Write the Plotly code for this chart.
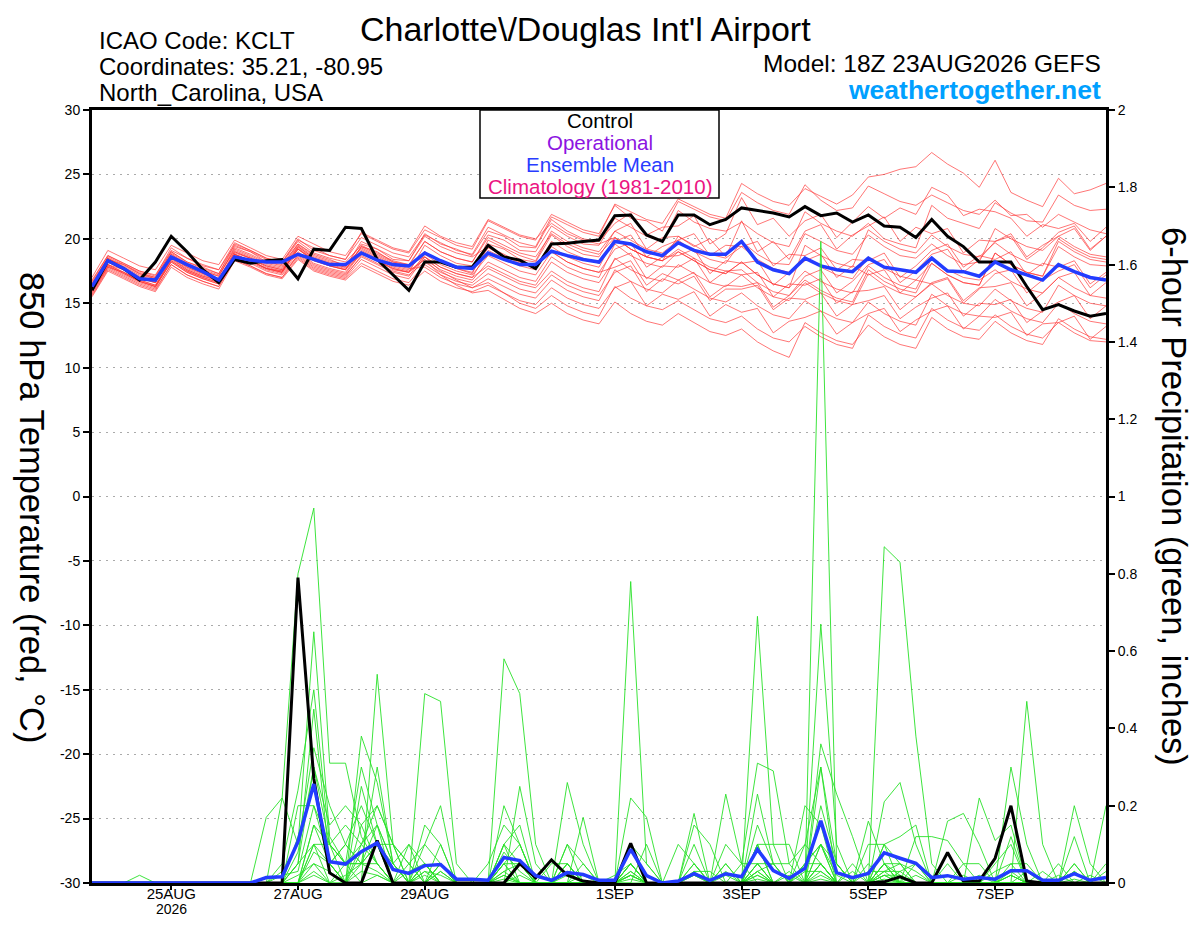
import pandas as pd
import plotly.graph_objects as go

# 6-hourly valid times, 18Z 23AUG2026 run
times = pd.date_range("2026-08-23 18:00", periods=65, freq="6h")

tick_dates = ["2026-08-25", "2026-08-27", "2026-08-29", "2026-09-01",
              "2026-09-03", "2026-09-05", "2026-09-07"]
tick_labels = ["25AUG", "27AUG", "29AUG", "1SEP", "3SEP", "5SEP", "7SEP"]
year_label = "2026"
temp_ticks = [-30, -25, -20, -15, -10, -5, 0, 5, 10, 15, 20, 25, 30]
temp_tick_labels = ["-30", "-25", "-20", "-15", "-10", "-5", "0", "5", "10", "15", "20", "25", "30"]
precip_ticks = [0, 0.2, 0.4, 0.6, 0.8, 1, 1.2, 1.4, 1.6, 1.8, 2]
precip_tick_labels = ["0", "0.2", "0.4", "0.6", "0.8", "1", "1.2", "1.4", "1.6", "1.8", "2"]

# 850 hPa temperature (C)
control_temp = [16.0, 18.3, 17.7, 16.8, 18.2, 20.2, 19.0, 17.6, 16.6, 18.4, 18.1, 18.3, 18.4,
                16.9, 19.2, 19.1, 20.9, 20.8, 18.4, 17.2, 16.0, 18.2, 18.2, 17.8, 17.8, 19.5,
                18.6, 18.35, 17.7, 19.6, 19.65, 19.8, 19.9, 21.8, 21.85, 20.3, 19.8, 21.85, 21.85,
                21.1, 21.5, 22.4, 22.2, 22.0, 21.7, 22.5, 21.8, 22.0, 21.3, 21.85, 21.0, 20.9,
                20.1, 21.5, 20.2, 19.4, 18.2, 18.2, 18.2, 16.3, 14.5, 14.9, 14.4, 14.0, 14.2]
mean_temp = [16.3, 18.3, 17.7, 16.9, 16.8, 18.6, 18.0, 17.45, 16.8, 18.6, 18.35, 18.2, 18.2,
             18.8, 18.4, 18.0, 18.0, 18.9, 18.35, 18.0, 17.9, 18.9, 18.3, 17.8, 17.7, 18.9,
             18.4, 18.0, 18.0, 19.05, 18.7, 18.4, 18.2, 19.8, 19.6, 19.0, 18.7, 19.7, 19.1,
             18.8, 18.8, 19.8, 18.2, 17.6, 17.3, 18.5, 17.9, 17.6, 17.45, 18.5, 17.8, 17.6,
             17.4, 18.5, 17.5, 17.45, 17.1, 18.2, 17.6, 17.2, 16.8, 18.0, 17.45, 17.0, 16.8]

t01 = [16.8, 18.7, 18.1, 17.5, 17.2, 19.1, 18.5, 17.9, 17.6, 19.7, 19.1, 18.5, 18.2, 19.9, 19.3, 18.7, 18.4,
       20.1, 19.5, 18.9, 18.6, 20.3, 19.7, 19.1, 18.8, 20.9, 20.3, 19.7, 19.4, 21.7, 21.1, 20.5, 20.2,
       22.7, 22.1, 21.5, 21.2, 23.1, 22.5, 21.9, 21.6, 24.3, 23.5, 22.9, 22.6, 23.9, 23.3, 22.7, 23.4,
       24.8, 25.0, 25.4, 25.6, 26.7, 25.8, 25.1, 24.0, 26.1, 23.6, 23.0, 22.5, 24.7, 23.5, 23.8, 24.3]
t02 = [17.0, 19.1, 18.5, 17.9, 17.6, 19.5, 18.9, 18.3, 18.0, 19.9, 19.3, 18.7, 18.4, 20.2, 19.6, 19.0, 18.7,
       20.4, 19.8, 19.2, 18.9, 20.7, 20.1, 19.5, 19.2, 21.4, 20.8, 20.2, 19.9, 21.9, 21.3, 20.7, 20.4,
       22.6, 21.6, 21.4, 20.6, 22.9, 22.3, 21.7, 21.4, 23.6, 22.8, 22.2, 21.9, 24.2, 23.0, 22.2, 22.4,
       24.1, 23.5, 22.9, 22.6, 23.4, 22.8, 22.2, 21.9, 23.0, 21.8, 21.9, 20.9, 21.9, 21.3, 20.7, 20.4]
t03 = [16.5, 18.4, 18.0, 17.3, 17.0, 19.0, 18.2, 17.8, 17.3, 19.4, 19.0, 18.2, 18.0, 19.6, 18.8, 18.4, 17.9,
       19.6, 19.2, 18.4, 18.3, 20.4, 19.6, 19.2, 18.7, 20.6, 20.2, 19.4, 19.3, 21.5, 20.6, 20.0, 19.8,
       21.2, 22.0, 20.3, 20.9, 21.0, 21.8, 19.6, 20.4, 23.2, 21.1, 21.6, 20.2, 21.4, 21.9, 20.1, 21.3,
       22.5, 21.6, 22.4, 21.9, 24.0, 23.4, 21.8, 22.3, 22.1, 21.6, 20.2, 21.1, 20.8, 21.2, 19.8, 20.9]
t04 = [16.2, 18.0, 17.6, 16.9, 16.6, 18.5, 17.6, 17.1, 16.8, 18.8, 18.3, 17.7, 17.5, 19.2, 18.4, 17.9, 17.6,
       19.4, 19.0, 18.2, 18.0, 19.8, 19.0, 18.5, 18.2, 20.3, 19.9, 19.1, 19.0, 21.0, 20.2, 19.6, 19.5,
       21.6, 20.9, 20.2, 19.8, 22.2, 21.3, 20.8, 20.6, 21.3, 20.4, 19.7, 19.4, 22.1, 21.2, 20.6, 20.2,
       21.2, 20.0, 19.6, 19.3, 22.6, 21.6, 21.2, 20.8, 22.8, 22.0, 21.4, 21.3, 23.4, 22.6, 22.2, 22.3]
t05 = [16.6, 18.5, 17.8, 17.2, 16.9, 18.8, 18.0, 17.5, 17.1, 19.2, 18.7, 18.1, 17.8, 19.5, 18.6, 18.2, 17.9,
       19.3, 18.7, 18.1, 17.8, 19.0, 18.2, 17.7, 17.3, 19.9, 19.3, 18.7, 18.3, 20.6, 19.8, 19.3, 19.0,
       20.6, 21.2, 19.2, 20.1, 20.2, 19.4, 20.0, 18.6, 21.4, 19.0, 19.8, 18.4, 20.6, 21.1, 19.2, 20.3,
       21.0, 21.7, 19.8, 20.9, 20.4, 20.8, 18.9, 19.9, 19.8, 20.4, 18.6, 19.5, 20.2, 20.8, 19.1, 20.2]
t06 = [15.9, 17.8, 17.4, 16.7, 16.3, 18.2, 17.4, 16.9, 16.5, 18.9, 18.5, 17.8, 17.5, 19.2, 18.3, 17.9, 17.6,
       18.8, 18.4, 17.6, 17.4, 19.5, 18.7, 18.1, 17.9, 19.6, 19.2, 18.4, 18.2, 20.3, 19.4, 18.8, 18.6,
       20.6, 19.9, 19.2, 18.9, 19.9, 19.0, 18.4, 18.1, 19.8, 18.8, 18.1, 18.0, 20.4, 19.8, 19.1, 18.8,
       20.3, 19.4, 18.7, 18.5, 19.6, 18.7, 18.0, 18.2, 20.8, 20.0, 19.4, 19.1, 20.2, 19.4, 18.8, 18.6]
t07 = [16.4, 18.3, 17.7, 17.1, 16.8, 18.9, 18.1, 17.6, 17.2, 19.1, 18.6, 18.0, 17.7, 19.4, 18.5, 18.1, 17.8,
       19.1, 18.5, 17.9, 17.6, 19.0, 18.2, 17.7, 17.4, 19.3, 18.7, 18.1, 17.8, 19.8, 19.0, 18.5, 18.1,
       19.8, 20.3, 18.6, 19.4, 19.9, 20.4, 18.7, 19.5, 19.4, 19.8, 17.9, 18.8, 18.7, 19.3, 17.6, 18.4,
       18.3, 18.9, 17.0, 17.9, 19.1, 19.6, 17.8, 18.7, 18.4, 19.0, 17.2, 18.1, 17.8, 18.3, 16.5, 17.4]
t08 = [16.1, 18.0, 17.4, 16.8, 16.4, 18.4, 17.6, 17.1, 16.7, 18.8, 18.3, 17.7, 17.4, 18.9, 18.0, 17.6, 17.3,
       18.9, 18.3, 17.7, 17.4, 18.6, 17.8, 17.3, 17.0, 19.1, 18.5, 17.9, 17.6, 19.4, 18.6, 18.1, 17.8,
       20.1, 19.2, 18.6, 18.3, 20.2, 19.5, 18.8, 18.5, 19.4, 18.4, 17.7, 17.4, 18.6, 17.8, 17.2, 16.9,
       18.6, 17.7, 17.1, 16.8, 18.1, 17.2, 16.6, 16.4, 18.9, 18.0, 17.4, 17.1, 19.4, 18.6, 18.0, 17.9]
t09 = [15.7, 17.7, 17.1, 16.5, 16.1, 18.0, 17.2, 16.7, 16.3, 18.4, 17.9, 17.3, 17.0, 18.8, 17.9, 17.5, 17.2,
       18.6, 18.0, 17.4, 17.1, 18.8, 18.0, 17.5, 17.2, 18.7, 18.1, 17.5, 17.2, 19.0, 18.2, 17.7, 17.4,
       19.2, 19.7, 17.8, 18.6, 18.7, 19.2, 17.3, 18.3, 18.1, 18.3, 16.4, 17.4, 18.3, 18.8, 17.0, 17.9,
       17.2, 17.6, 15.8, 16.8, 16.5, 16.9, 15.0, 16.1, 17.3, 17.6, 15.8, 16.8, 17.5, 18.0, 16.2, 17.2]
t10 = [16.3, 18.2, 17.6, 17.0, 16.6, 18.6, 17.8, 17.3, 16.9, 19.0, 18.5, 17.9, 17.6, 19.0, 18.1, 17.7, 17.4,
       19.0, 18.4, 17.8, 17.5, 18.4, 17.6, 17.1, 16.8, 18.2, 17.6, 17.0, 16.7, 18.6, 17.8, 17.3, 17.0,
       19.6, 18.7, 18.1, 17.8, 19.0, 18.3, 17.6, 17.3, 18.2, 17.2, 16.5, 16.2, 17.5, 16.7, 16.1, 15.8,
       17.9, 17.0, 16.4, 16.1, 18.5, 17.6, 17.0, 16.8, 17.6, 16.7, 16.1, 15.8, 17.0, 16.2, 15.6, 15.4]
t11 = [15.8, 17.8, 17.2, 16.6, 16.2, 18.3, 17.5, 17.0, 16.6, 18.6, 18.1, 17.5, 17.2, 18.6, 17.7, 17.3, 17.0,
       18.4, 17.8, 17.2, 16.9, 18.6, 17.8, 17.3, 17.0, 17.9, 17.3, 16.7, 16.4, 18.2, 17.4, 16.9, 16.6,
       18.4, 18.9, 16.9, 17.9, 17.8, 18.5, 16.6, 17.5, 17.2, 17.4, 15.5, 16.5, 16.4, 16.9, 15.0, 15.9,
       16.0, 16.3, 14.5, 15.5, 16.6, 17.0, 15.2, 16.2, 16.3, 16.6, 14.8, 15.8, 17.0, 17.4, 15.6, 16.6]
t12 = [16.0, 17.9, 17.3, 16.7, 16.3, 18.2, 17.4, 16.9, 16.5, 18.7, 18.2, 17.6, 17.3, 18.7, 17.8, 17.4, 17.1,
       18.7, 18.1, 17.5, 17.2, 18.2, 17.4, 16.9, 16.6, 17.7, 17.1, 16.5, 16.2, 17.5, 16.7, 16.2, 15.9,
       18.5, 17.6, 17.0, 16.7, 18.0, 17.3, 16.6, 16.3, 17.2, 16.2, 15.5, 15.2, 16.6, 15.8, 15.2, 14.9,
       17.3, 16.4, 15.8, 15.5, 16.5, 15.6, 15.0, 14.8, 16.1, 15.2, 14.6, 14.3, 16.4, 15.6, 15.0, 14.8]
t13 = [15.6, 17.6, 17.0, 16.4, 16.0, 18.0, 17.2, 16.7, 16.3, 18.4, 17.9, 17.3, 17.0, 18.5, 17.6, 17.2, 16.9,
       18.1, 17.5, 16.9, 16.6, 18.0, 17.2, 16.7, 16.4, 17.3, 16.7, 16.1, 15.8, 17.2, 16.4, 15.9, 15.6,
       17.4, 17.9, 15.9, 16.9, 16.5, 17.1, 15.2, 16.1, 16.1, 16.4, 14.5, 15.4, 15.3, 15.8, 14.0, 14.9,
       15.2, 15.6, 13.8, 14.7, 15.4, 15.8, 14.0, 15.0, 14.9, 15.3, 13.5, 14.4, 15.1, 15.6, 13.8, 14.8]
t14 = [16.4, 18.5, 17.9, 17.3, 16.9, 18.8, 18.0, 17.5, 17.1, 19.3, 18.8, 18.2, 17.9, 19.6, 18.7, 18.3, 18.0,
       19.2, 18.6, 18.0, 17.7, 17.8, 17.0, 16.5, 16.2, 16.9, 16.3, 15.7, 15.4, 16.8, 16.0, 15.5, 15.2,
       17.6, 16.7, 16.1, 15.8, 16.8, 16.1, 15.4, 15.1, 15.8, 14.8, 14.1, 13.8, 15.2, 14.4, 13.8, 13.5,
       15.1, 14.2, 13.6, 13.3, 15.7, 14.8, 14.2, 14.0, 15.3, 14.4, 13.8, 13.5, 15.0, 14.2, 13.6, 13.4]
t15 = [15.5, 17.5, 16.9, 16.3, 15.9, 17.8, 17.0, 16.5, 16.1, 18.3, 17.8, 17.2, 16.9, 18.4, 17.5, 17.1, 16.8,
       17.9, 17.3, 16.7, 16.4, 17.5, 16.7, 16.2, 15.9, 16.4, 15.8, 15.2, 14.9, 16.2, 15.4, 14.9, 14.6,
       16.2, 16.7, 14.8, 15.7, 15.3, 15.9, 14.0, 14.9, 14.3, 14.6, 12.7, 13.6, 13.9, 14.4, 12.6, 13.5,
       14.2, 14.6, 12.8, 13.7, 14.4, 14.8, 13.0, 14.0, 13.9, 14.3, 12.5, 13.4, 13.5, 14.0, 12.2, 13.2]
t16 = [16.7, 18.7, 18.1, 17.5, 17.1, 19.3, 18.5, 18.0, 17.6, 19.5, 19.0, 18.4, 18.1, 19.8, 18.9, 18.5, 18.2,
       19.5, 18.9, 18.3, 18.0, 18.6, 17.5, 16.8, 16.2, 16.6, 15.8, 15.0, 14.6, 15.6, 14.8, 14.3, 14.0,
       16.3, 15.4, 14.8, 14.5, 15.2, 14.5, 13.8, 13.5, 14.0, 13.0, 12.3, 12.0, 13.2, 12.4, 11.8, 11.5,
       14.1, 13.2, 12.6, 12.3, 14.6, 13.7, 13.1, 12.9, 14.1, 13.2, 12.6, 12.3, 13.5, 12.7, 12.1, 12.0]
t17 = [15.9, 17.9, 17.3, 16.7, 16.3, 18.5, 17.7, 17.2, 16.8, 19.0, 18.5, 17.9, 17.6, 19.3, 18.4, 18.0, 17.7,
       18.9, 18.3, 17.7, 17.4, 18.4, 17.2, 16.4, 15.8, 16.0, 15.3, 14.6, 14.2, 15.0, 14.2, 13.7, 13.4,
       15.1, 14.2, 13.6, 13.3, 14.2, 13.5, 12.8, 12.5, 13.0, 12.0, 11.3, 10.8, 13.5, 12.7, 12.1, 11.8,
       13.3, 12.4, 11.8, 11.5, 13.9, 13.0, 12.4, 12.2, 13.6, 12.7, 12.1, 11.8, 13.8, 13.0, 12.4, 12.2]
t18 = [16.2, 18.2, 17.6, 17.0, 16.6, 18.6, 17.8, 17.3, 16.9, 18.8, 18.3, 17.7, 17.4, 19.4, 18.5, 18.1, 17.8,
       19.8, 19.2, 18.6, 18.3, 20.2, 19.4, 18.9, 18.6, 19.4, 18.8, 18.2, 17.9, 19.0, 18.2, 17.7, 17.4,
       17.8, 18.3, 16.4, 17.3, 16.8, 17.4, 15.5, 16.4, 16.3, 16.6, 14.7, 15.6, 17.1, 17.6, 15.8, 16.7,
       18.0, 18.4, 16.6, 17.5, 18.8, 19.2, 17.4, 18.4, 19.8, 20.2, 18.4, 19.3, 20.5, 21.0, 19.2, 20.2]
t19 = [16.5, 18.6, 18.0, 17.4, 17.0, 19.0, 18.2, 17.7, 17.3, 19.6, 19.1, 18.5, 18.2, 20.0, 19.1, 18.7, 18.4,
       20.5, 19.9, 19.3, 19.0, 21.0, 20.2, 19.7, 19.4, 21.5, 20.9, 20.3, 20.0, 21.2, 20.4, 19.9, 19.6,
       20.1, 19.2, 18.6, 18.3, 19.0, 18.3, 17.6, 17.3, 18.2, 17.2, 16.5, 16.2, 19.5, 18.7, 18.1, 17.8,
       20.7, 19.8, 19.2, 18.9, 20.3, 19.4, 18.8, 18.6, 19.7, 18.8, 18.2, 17.9, 20.0, 19.2, 18.6, 18.4]
t20 = [16.0, 18.0, 17.4, 16.8, 16.4, 18.3, 17.5, 17.0, 16.6, 18.8, 18.3, 17.7, 17.4, 19.2, 18.3, 17.9, 17.6,
       19.4, 18.8, 18.2, 17.9, 19.8, 19.0, 18.5, 18.2, 20.1, 19.5, 18.9, 18.6, 20.4, 19.6, 19.1, 18.8,
       20.1, 19.2, 18.6, 18.3, 19.2, 18.5, 17.8, 17.5, 17.6, 16.6, 15.9, 15.6, 16.8, 16.0, 15.4, 15.1,
       17.6, 16.7, 16.1, 15.8, 18.1, 17.2, 16.6, 16.4, 18.9, 18.0, 17.4, 17.1, 19.8, 19.0, 18.4, 18.2]

# 6-hour precipitation (inches)
control_precip = [0, 0, 0, 0, 0, 0, 0, 0, 0, 0, 0, 0, 0,
                  0.79, 0.27, 0.026, 0, 0, 0.11, 0, 0, 0, 0, 0, 0, 0,
                  0, 0.05, 0.013, 0.06, 0.02, 0.005, 0, 0, 0.103, 0, 0, 0, 0,
                  0, 0, 0, 0, 0, 0, 0, 0, 0, 0, 0, 0.003, 0.016,
                  0, 0, 0.079, 0.005, 0.005, 0.064, 0.20, 0.005, 0, 0, 0, 0, 0]
mean_precip = [0, 0, 0, 0, 0, 0, 0, 0, 0, 0, 0, 0.014, 0.016,
               0.107, 0.256, 0.055, 0.049, 0.081, 0.104, 0.035, 0.025, 0.045, 0.048, 0.01, 0.01, 0.007,
               0.066, 0.058, 0.019, 0.007, 0.027, 0.022, 0.007, 0.007, 0.087, 0.019, 0, 0.005, 0.024,
               0.007, 0.024, 0.016, 0.087, 0.032, 0.012, 0.038, 0.161, 0.027, 0.014, 0.025, 0.078, 0.064,
               0.051, 0.014, 0.019, 0.01, 0.014, 0.01, 0.032, 0.032, 0.007, 0.007, 0.024, 0.007, 0.014]

p01 = [0, 0, 0, .02, 0, 0, 0, 0, 0, 0, 0, 0, .22,
       .80, .97, .31, .31, .12, .05, 0, 0, .03, 0, 0, 0, 0,
       .05, 0, 0, 0, 0, 0, 0, 0, .05, 0, 0, 0, 0,
       0, 0, 0, .03, 0, 0, 0, .05, 0, 0, 0, .02, 0,
       0, 0, 0, 0, 0, 0, 0, 0, 0, 0, 0, 0, 0]
p02 = [0, 0, 0, 0, 0, 0, 0, 0, 0, 0, 0, .17, .22,
       .10, .65, .12, .05, 0, .54, .10, 0, 0, .03, 0, 0, 0,
       .58, .49, .10, 0, 0, 0, 0, 0, .02, 0, 0, 0, 0,
       0, .05, 0, 0, 0, 0, 0, 1.66, .05, 0, 0, .05, .02,
       0, 0, 0, 0, 0, 0, 0, 0, 0, 0, 0, 0, 0]
p03 = [0, 0, 0, 0, 0, 0, 0, 0, 0, 0, 0, 0, .05,
       .24, .50, .10, 0, .38, .26, .05, 0, .49, .47, .05, 0, 0,
       0, 0, 0, 0, .10, 0, 0, 0, .78, .05, 0, 0, 0,
       0, 0, 0, .10, 0, 0, 0, .30, 0, 0, .16, .05, 0,
       0, 0, 0, 0, 0, 0, 0, 0, 0, 0, 0, 0, 0]
p04 = [0, 0, 0, 0, 0, 0, 0, 0, 0, 0, 0, 0, 0,
       .05, .45, .05, .10, .20, .10, 0, 0, .10, .20, 0, 0, 0,
       .20, .10, 0, 0, 0, .17, 0, 0, .22, .17, 0, 0, .18,
       0, 0, 0, .69, .10, 0, 0, .67, .10, 0, 0, .87, .83,
       .38, .05, 0, 0, 0, 0, 0, 0, 0, 0, 0, 0, 0]
p05 = [0, 0, 0, 0, 0, 0, 0, 0, 0, 0, 0, 0, .03,
       .10, .35, .20, .10, .05, .30, .05, .10, 0, .10, 0, 0, 0,
       0, .25, .05, 0, .26, .10, 0, 0, 0, 0, 0, 0, .10,
       0, .23, .05, .31, .29, .05, 0, .36, .23, .12, 0, 0, 0,
       0, 0, 0, 0, 0, 0, 0, .47, .10, 0, 0, 0, .20]
p06 = [0, 0, 0, 0, 0, 0, 0, 0, 0, 0, 0, 0, 0,
       .08, .30, .15, .20, .15, .20, .10, .05, 0, 0, 0, 0, 0,
       .10, .15, 0, 0, .05, 0, 0, 0, .10, 0, 0, 0, .15,
       .10, 0, 0, .23, .05, 0, .10, .30, .05, 0, 0, .21, .26,
       .10, 0, 0, 0, .22, .11, .15, 0, 0, 0, 0, 0, 0]
p07 = [0, 0, 0, 0, 0, 0, 0, 0, 0, 0, 0, 0, 0,
       .05, .30, .10, .15, .10, .15, 0, 0, .15, .10, 0, 0, 0,
       .10, 0, 0, 0, .05, 0, 0, 0, .10, 0, 0, 0, 0,
       0, 0, 0, .10, 0, 0, .20, .15, 0, 0, .10, .10, 0,
       0, 0, .16, .18, .10, 0, .30, .10, 0, 0, .20, .05, 0]
p08 = [0, 0, 0, 0, 0, 0, 0, 0, 0, 0, 0, 0, 0,
       .12, .25, .05, 0, .25, .10, 0, .10, .05, 0, 0, 0, .05,
       .15, .10, 0, 0, .10, .05, 0, 0, 0, .10, 0, .10, .05,
       0, 0, 0, .10, .10, .10, 0, .10, .02, 0, 0, .10, .12,
       .15, 0, 0, 0, 0, 0, .12, 0, 0, 0, .12, 0, .05]
p09 = [0, 0, 0, 0, 0, 0, 0, 0, 0, 0, 0, 0, .02,
       .03, .20, .10, .05, .30, .15, .05, 0, 0, .05, 0, 0, 0,
       .05, .05, 0, 0, 0, 0, 0, .02, .05, 0, 0, 0, 0,
       0, .10, .05, 0, 0, 0, .05, .10, 0, .05, 0, 0, 0,
       .12, .12, .11, .05, 0, .05, .10, 0, 0, 0, 0, 0, 0]
p10 = [0, 0, 0, 0, 0, 0, 0, 0, 0, 0, 0, 0, 0,
       .20, .20, .05, .10, .05, .10, .10, .05, 0, .05, 0, 0, 0,
       .05, 0, 0, .05, .05, 0, 0, 0, .05, 0, 0, 0, .05,
       0, 0, 0, .05, .05, .05, .10, .05, 0, 0, 0, .05, 0,
       0, 0, 0, 0, 0, 0, .05, .05, 0, 0, .05, 0, 0]
p11 = [0, 0, 0, 0, 0, 0, 0, 0, 0, 0, 0, 0, 0,
       0, .15, .10, .05, .10, .20, .10, 0, .05, 0, 0, 0, 0,
       .10, .05, 0, 0, 0, .05, 0, 0, .03, 0, 0, 0, .02,
       0, .05, 0, .15, .05, 0, 0, .10, .05, 0, 0, .03, .05,
       0, 0, 0, .05, .05, 0, 0, 0, .03, 0, .03, 0, 0]
p12 = [0, 0, 0, 0, 0, 0, 0, 0, 0, 0, 0, 0, 0,
       0, .15, .05, 0, .15, .05, 0, .05, .10, .05, 0, 0, 0,
       .03, 0, 0, 0, .03, 0, 0, 0, .10, .05, 0, 0, 0,
       0, .03, 0, .05, 0, .03, 0, .20, .05, 0, .05, 0, .03,
       .05, 0, 0, 0, 0, .03, .05, 0, 0, .05, 0, 0, .03]
p13 = [0, 0, 0, 0, 0, 0, 0, 0, 0, 0, 0, 0, 0,
       0, .10, .10, .05, .05, .15, .05, 0, 0, .05, 0, 0, 0,
       0, .05, 0, 0, .05, 0, 0, 0, .05, 0, 0, 0, .03,
       .03, 0, 0, .03, 0, 0, .05, .05, 0, 0, 0, .10, .05,
       0, 0, .05, 0, 0, 0, .03, 0, 0, 0, .05, 0, 0]
p14 = [0, 0, 0, 0, 0, 0, 0, 0, 0, 0, 0, 0, 0,
       .05, .10, .05, 0, .08, .10, 0, 0, .05, 0, 0, 0, 0,
       .08, .03, 0, 0, 0, .02, 0, 0, .10, 0, 0, 0, .03,
       0, 0, 0, .03, .05, 0, 0, .05, 0, .03, 0, .05, .05,
       .03, 0, 0, 0, 0, 0, .02, 0, 0, 0, 0, 0, 0]
p15 = [0, 0, 0, 0, 0, 0, 0, 0, 0, 0, 0, 0, 0,
       0, .10, 0, .05, .05, .10, .05, 0, .05, 0, 0, 0, 0,
       .05, .10, 0, 0, 0, 0, 0, 0, .05, 0, 0, 0, .05,
       0, 0, .05, .05, 0, 0, .05, .10, 0, 0, 0, .05, 0,
       .05, 0, 0, .02, 0, 0, 0, .03, 0, 0, .03, 0, 0]
p16 = [0, 0, 0, 0, 0, 0, 0, 0, 0, 0, 0, 0, 0,
       0, .08, .05, 0, .10, .05, 0, .03, .05, 0, 0, 0, 0,
       .03, .05, 0, 0, .02, 0, 0, 0, .03, 0, 0, 0, .02,
       0, 0, 0, .05, 0, .02, 0, .05, 0, 0, .03, .03, .03,
       0, 0, 0, 0, 0, 0, .02, 0, 0, 0, 0, 0, 0]
p17 = [0, 0, 0, 0, 0, 0, 0, 0, 0, 0, 0, 0, 0,
       0, .05, .03, 0, .05, .05, 0, 0, .03, .02, 0, 0, 0,
       .02, 0, 0, 0, 0, 0, 0, 0, .02, 0, 0, 0, 0,
       0, .02, 0, .02, 0, 0, 0, .03, 0, 0, 0, .02, .02,
       0, 0, 0, 0, 0, 0, 0, 0, 0, 0, 0, .02, 0]
p18 = [0, 0, 0, 0, 0, 0, 0, 0, 0, 0, 0, 0, 0,
       .02, .05, 0, .02, .05, .03, 0, 0, 0, .03, 0, 0, 0,
       0, .02, 0, 0, .03, 0, 0, 0, .02, 0, 0, 0, 0,
       0, 0, 0, .02, 0, 0, .03, .03, 0, 0, 0, .03, 0,
       0, 0, 0, 0, .02, 0, .02, 0, 0, 0, 0, 0, 0]
p19 = [0, 0, 0, 0, 0, 0, 0, 0, 0, 0, 0, 0, 0,
       0, .03, 0, 0, .03, .02, 0, 0, .02, 0, 0, 0, 0,
       .02, 0, 0, 0, 0, 0, 0, 0, .02, 0, 0, 0, 0,
       0, 0, 0, .01, 0, 0, 0, .02, 0, 0, 0, .02, 0,
       .02, 0, 0, 0, 0, 0, 0, 0, 0, .02, 0, 0, 0]
p20 = [0, 0, 0, 0, 0, 0, 0, 0, 0, 0, 0, 0, 0,
       0, .02, 0, 0, 0, .02, 0, 0, 0, 0, 0, 0, 0,
       .01, 0, 0, 0, 0, 0, 0, 0, .01, 0, 0, 0, 0,
       0, 0, 0, 0, 0, 0, 0, .01, 0, 0, 0, .01, 0,
       0, 0, 0, 0, 0, 0, 0, 0, 0, 0, .01, 0, 0]

temp_members = [t01, t02, t03, t04, t05, t06, t07, t08, t09, t10,
                t11, t12, t13, t14, t15, t16, t17, t18, t19, t20]
precip_members = [p01, p02, p03, p04, p05, p06, p07, p08, p09, p10,
                  p11, p12, p13, p14, p15, p16, p17, p18, p19, p20]

# page puts the figure 8px in from the corner, so the figure is 16px smaller
# than the window and all positions below are given in window pixels
OFF = 8
W, H = 1200 - 2 * OFF, 927 - 2 * OFF
L, R, T, B = 92, 1106, 110, 883   # plot box in window pixels


def px(x):
    return (x - L) / (R - L)


def py(y):
    return (B - y) / (B - T)


fig = go.Figure()

for m in temp_members:
    fig.add_trace(go.Scatter(x=times, y=m, mode="lines",
                             line=dict(color="rgba(255,50,50,0.75)", width=0.9), hoverinfo="skip"))
for m in precip_members:
    fig.add_trace(go.Scatter(x=times, y=m, yaxis="y2", mode="lines",
                             line=dict(color="rgb(40,225,40)", width=0.9), hoverinfo="skip"))

fig.add_trace(go.Scatter(x=times, y=control_temp, mode="lines", line=dict(color="black", width=3)))
fig.add_trace(go.Scatter(x=times, y=mean_temp, mode="lines", line=dict(color="rgb(35,60,255)", width=3.5)))
fig.add_trace(go.Scatter(x=times, y=control_precip, yaxis="y2", mode="lines",
                         line=dict(color="black", width=3)))
fig.add_trace(go.Scatter(x=times, y=mean_precip, yaxis="y2", mode="lines",
                         line=dict(color="rgb(35,60,255)", width=3.5)))

font = "Liberation Sans, Arial, Helvetica, sans-serif"

fig.update_layout(
    width=W, height=H,
    margin=dict(l=L - OFF, r=W - (R - OFF), t=T - OFF, b=H - (B - OFF), autoexpand=False),
    paper_bgcolor="white", plot_bgcolor="white",
    showlegend=False,
    font=dict(family=font, color="black"),
    xaxis=dict(range=[times[0], times[-1]], tickvals=tick_dates, ticktext=tick_labels,
               ticks="outside", ticklen=4, tickwidth=1.5, tickcolor="black",
               ticklabelstandoff=-9,
               showline=True, linewidth=3, linecolor="black", mirror=True,
               showgrid=False, zeroline=False, tickfont=dict(size=15), automargin=False),
    yaxis=dict(range=[-30, 30], tickvals=temp_ticks, ticktext=temp_tick_labels,
               ticks="outside", ticklen=6, tickwidth=1.5, tickcolor="black",
               showline=True, linewidth=3, linecolor="black",
               showgrid=True, gridcolor="#aaaaaa", griddash="2px,5px", gridwidth=1.2,
               zeroline=False, tickfont=dict(size=14), automargin=False),
    yaxis2=dict(range=[0, 2], overlaying="y", side="right",
                tickvals=precip_ticks, ticktext=precip_tick_labels,
                ticks="outside", ticklen=6, tickwidth=1.5, tickcolor="black",
                showline=True, linewidth=3, linecolor="black",
                showgrid=False, zeroline=False, tickfont=dict(size=14), automargin=False),
)

# legend box
fig.add_shape(type="rect", xref="paper", yref="paper",
              x0=px(480), x1=px(719), y0=py(198), y1=py(110),
              line=dict(color="black", width=1.5), fillcolor="white", layer="above")

ann = []
ann.append(dict(text="Charlotte\\/Douglas Int'l Airport", x=px(585), y=py(29),
                font=dict(size=34), xanchor="center"))
ann.append(dict(text="ICAO Code: KCLT", x=px(97), y=py(41), font=dict(size=24), xanchor="left"))
ann.append(dict(text="Coordinates: 35.21, -80.95", x=px(97), y=py(67), font=dict(size=24), xanchor="left"))
ann.append(dict(text="North_Carolina, USA", x=px(97), y=py(93), font=dict(size=24), xanchor="left"))
ann.append(dict(text="Model: 18Z 23AUG2026 GEFS", x=px(1103), y=py(63), font=dict(size=24.5), xanchor="right"))
ann.append(dict(text="<b>weathertogether.net</b>", x=px(1103), y=py(90),
                font=dict(size=26.5, color="rgb(0,160,255)"), xanchor="right"))
legend_rows = [("Control", "black", 121), ("Operational", "rgb(140,20,225)", 142),
               ("Ensemble Mean", "rgb(40,60,255)", 164), ("Climatology (1981-2010)", "rgb(235,20,130)", 186)]
for txt, col, yy in legend_rows:
    ann.append(dict(text=txt, x=px(599.5), y=py(yy), font=dict(size=20.5, color=col), xanchor="center"))
ann.append(dict(text="850 hPa Temperature (red, °C)", x=px(32), y=py(507),
                font=dict(size=34.5), textangle=90, xanchor="center"))
ann.append(dict(text="6-hour Precipitation (green, inches)", x=px(1174), y=py(496),
                font=dict(size=34.5), textangle=90, xanchor="center"))

for a in ann:
    a.update(xref="paper", yref="paper", showarrow=False, yanchor="middle")

# year under the first date label
ann.append(dict(text=year_label, xref="x", yref="paper", x=tick_dates[0], y=py(919),
                xanchor="center", yanchor="bottom", showarrow=False, font=dict(size=14)))
fig.update_layout(annotations=ann)

fig.write_html("out.html")
